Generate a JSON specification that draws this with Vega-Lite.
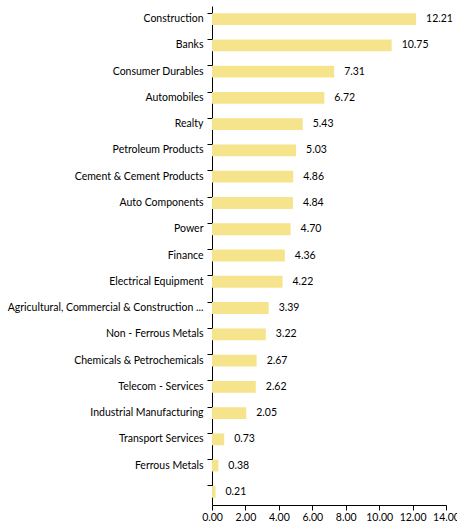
{
  "$schema": "https://vega.github.io/schema/vega-lite/v6.json",
  "autosize": "none",
  "width": 234,
  "height": 499,
  "padding": {"left": 212, "top": 6, "right": 11, "bottom": 19},
  "background": "white",
  "config": {
    "view": {"stroke": null},
    "font": "Lato",
    "axis": {"labelFont": "Lato", "labelFontSize": 10.5, "labelColor": "#000000", "domainColor": "#000000", "tickColor": "#000000", "grid": false, "title": null}
  },
  "data": {
    "values": [
      {"sector": "Construction", "value": 12.21},
      {"sector": "Banks", "value": 10.75},
      {"sector": "Consumer Durables", "value": 7.31},
      {"sector": "Automobiles", "value": 6.72},
      {"sector": "Realty", "value": 5.43},
      {"sector": "Petroleum Products", "value": 5.03},
      {"sector": "Cement & Cement Products", "value": 4.86},
      {"sector": "Auto Components", "value": 4.84},
      {"sector": "Power", "value": 4.70},
      {"sector": "Finance", "value": 4.36},
      {"sector": "Electrical Equipment", "value": 4.22},
      {"sector": "Agricultural, Commercial & Construction ...", "value": 3.39},
      {"sector": "Non - Ferrous Metals", "value": 3.22},
      {"sector": "Chemicals & Petrochemicals", "value": 2.67},
      {"sector": "Telecom - Services", "value": 2.62},
      {"sector": "Industrial Manufacturing", "value": 2.05},
      {"sector": "Transport Services", "value": 0.73},
      {"sector": "Ferrous Metals", "value": 0.38},
      {"sector": " ", "value": 0.21}
    ]
  },
  "encoding": {
    "y": {
      "field": "sector", "type": "nominal", "sort": null,
      "scale": {"paddingInner": 0.55, "paddingOuter": 0.275},
      "axis": {"bandPosition": 0, "tickSize": 5, "labelPadding": 4, "labelLimit": 300}
    },
    "x": {
      "field": "value", "type": "quantitative",
      "scale": {"domain": [0, 14], "nice": false},
      "axis": {"values": [0, 2, 4, 6, 8, 10, 12, 14], "format": ".2f", "tickSize": 5, "labelPadding": 2, "labelFlush": false}
    }
  },
  "layer": [
    {"mark": {"type": "bar", "color": "#F6E48C"}},
    {"mark": {"type": "text", "align": "left", "dx": 10, "fontSize": 10.5, "font": "Lato", "color": "#000000"},
     "encoding": {"text": {"field": "value", "type": "quantitative", "format": ".2f"}}}
  ]
}
